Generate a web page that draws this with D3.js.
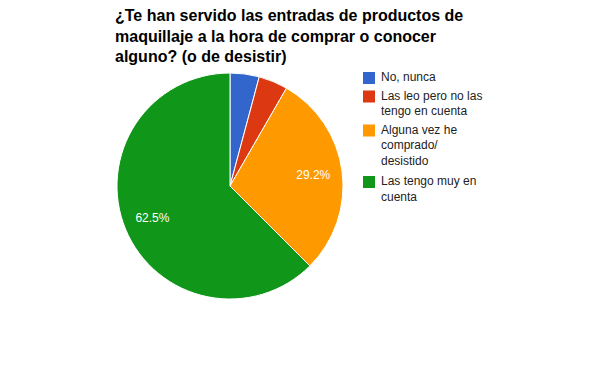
<!DOCTYPE html>
<html>
<head>
<meta charset="utf-8">
<script src="https://cdn.jsdelivr.net/npm/d3@7"></script>
<style>
  body { margin: 0; background: #fff; }
  text { font-family: Arial, "Liberation Sans", sans-serif; }
</style>
</head>
<body>
<div id="chart"></div>
<script>
// chart data
let categories = ['No, nunca', 'Las leo pero no las tengo en cuenta', 'Alguna vez he comprado/ desistido', 'Las tengo muy en cuenta'];
let legendLines = [['No, nunca'], ['Las leo pero no las', 'tengo en cuenta'], ['Alguna vez he', 'comprado/', 'desistido'], ['Las tengo muy en', 'cuenta']];
let values = [1, 1, 7, 15];
let colors = ['#3366cc', '#dc3912', '#ff9900', '#109618'];
let titleLines = ['¿Te han servido las entradas de productos de', 'maquillaje a la hora de comprar o conocer', 'alguno? (o de desistir)'];

let svgWidth = 600;
let svgHeight = 371;

let svg = d3.select('#chart')
  .append('svg')
  .attr('width', svgWidth)
  .attr('height', svgHeight);

// title
svg.append('g')
  .selectAll('text')
  .data(titleLines)
  .enter()
  .append('text')
  .attr('x', 115)
  .attr('y', (d, i) => 21 + i * 20.5)
  .attr('font-size', 16)
  .attr('font-weight', 'bold')
  .attr('fill', '#000')
  .text(d => d);

// pie
let cx = 230, cy = 186, radius = 113;
let total = d3.sum(values);
let pie = d3.pie().sort(null).value(d => d);
let arcs = pie(values);
let arc = d3.arc().innerRadius(0).outerRadius(radius);
let labelArc = d3.arc().innerRadius(84).outerRadius(84);

let pieGroup = svg.append('g')
  .attr('transform', `translate(${cx}, ${cy})`);

pieGroup.selectAll('path')
  .data(arcs)
  .enter()
  .append('path')
  .attr('d', arc)
  .attr('fill', (d, i) => colors[i])
  .attr('stroke', '#fff')
  .attr('stroke-width', 1);

// percent labels only on the larger slices
pieGroup.selectAll('text')
  .data(arcs.filter(d => d.value / total > 0.1))
  .enter()
  .append('text')
  .attr('transform', d => `translate(${labelArc.centroid(d)})`)
  .attr('text-anchor', 'middle')
  .attr('dy', '0.35em')
  .attr('font-size', 12)
  .attr('fill', '#fff')
  .text(d => (d.value / total * 100).toFixed(1) + '%');

// legend
let legendTops = [72, 90.5, 124.5, 176];
let legend = svg.append('g');
let items = legend.selectAll('g')
  .data(categories)
  .enter()
  .append('g')
  .attr('transform', (d, i) => `translate(363, ${legendTops[i]})`);

items.append('rect')
  .attr('width', 12)
  .attr('height', 12)
  .attr('fill', (d, i) => colors[i]);

items.each(function (d, i) {
  d3.select(this).selectAll('text')
    .data(legendLines[i])
    .enter()
    .append('text')
    .attr('x', 18)
    .attr('y', (t, j) => 9 + j * 15.5)
    .attr('font-size', 12)
    .attr('fill', '#222')
    .text(t => t);
});
</script>
</body>
</html>
